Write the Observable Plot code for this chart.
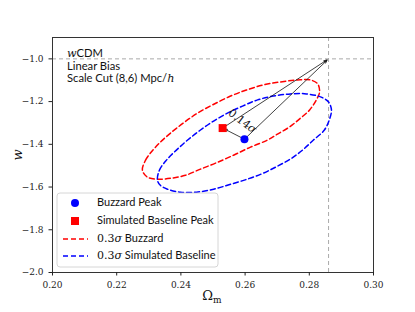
<!DOCTYPE html>
<html><head><meta charset="utf-8">
<script src="https://cdn.jsdelivr.net/npm/d3@7"></script>
<script src="https://cdn.jsdelivr.net/npm/@observablehq/plot@0.6"></script>
<style>body{margin:0;background:#fff}#c{position:relative;width:415px;height:312px}</style>
</head><body><div id="c"></div>
<script>
const xTicks = [0.20, 0.22, 0.24, 0.26, 0.28, 0.30];
const yTicks = [-1.0, -1.2, -1.4, -1.6, -1.8, -2.0];
const truthOm = 0.286, truthW = -1.0;
const buzzardPeak = {om: 0.2598, w: -1.376};
const simPeak = {om: 0.2530, w: -1.324};
const sepLabel = "0.14";
const redEllX = [0.2280,0.2290,0.2305,0.2333,0.2368,0.2408,0.2452,0.2498,0.2555,0.2604,0.2657,0.2710,0.2763,0.2804,0.2826,0.2832,0.2822,0.2801,0.2773,0.2738,0.2701,0.2670,0.2617,0.2564,0.2508,0.2461,0.2414,0.2368,0.2327,0.2296];
const redEllW = [-1.521,-1.474,-1.441,-1.394,-1.347,-1.300,-1.254,-1.216,-1.174,-1.146,-1.122,-1.108,-1.099,-1.099,-1.117,-1.155,-1.192,-1.239,-1.277,-1.319,-1.352,-1.380,-1.413,-1.451,-1.488,-1.516,-1.545,-1.559,-1.563,-1.554];
const blueEllX = [0.2327,0.2333,0.2355,0.2386,0.2421,0.2461,0.2502,0.2545,0.2592,0.2639,0.2688,0.2741,0.2791,0.2835,0.2860,0.2869,0.2863,0.2847,0.2813,0.2779,0.2741,0.2701,0.2657,0.2607,0.2555,0.2502,0.2449,0.2399,0.2358,0.2336];
const blueEllW = [-1.568,-1.521,-1.474,-1.427,-1.380,-1.333,-1.291,-1.254,-1.221,-1.192,-1.174,-1.164,-1.164,-1.178,-1.202,-1.239,-1.282,-1.333,-1.380,-1.427,-1.469,-1.502,-1.535,-1.563,-1.587,-1.610,-1.624,-1.624,-1.610,-1.592];

const redEll = redEllX.map((x,i)=>({x, w: redEllW[i]}));
const blueEll = blueEllX.map((x,i)=>({x, w: blueEllW[i]}));
const serif = "DejaVu Serif, Liberation Serif, serif";
const sans = "Lato, DejaVu Sans, sans-serif";
const minus = d => d3.format(".1f")(d).replace("-", "\u2212");

const chart = Plot.plot({
  width: 415, height: 312,
  marginLeft: 52, marginRight: 42, marginTop: 37, marginBottom: 40,
  x: {domain: [0.20, 0.30]},
  y: {domain: [-2.0, -0.9]},
  style: {fontFamily: serif, fontSize: "9px", color: "#222"},
  marks: [
    Plot.ruleY([truthW], {stroke: "#aaa", strokeDasharray: "4,3", strokeWidth: 1}),
    Plot.ruleX([truthOm], {stroke: "#aaa", strokeDasharray: "4,3", strokeWidth: 1}),
    Plot.line(redEll, {x: "x", y: "w", curve: "catmull-rom-closed", stroke: "#ff0000", strokeWidth: 1.5, strokeDasharray: "5,3"}),
    Plot.line(blueEll, {x: "x", y: "w", curve: "catmull-rom-closed", stroke: "#0000ff", strokeWidth: 1.5, strokeDasharray: "5,3"}),
    Plot.arrow([{x1: simPeak.om, y1: simPeak.w, x2: truthOm, y2: truthW},
                {x1: buzzardPeak.om, y1: buzzardPeak.w, x2: truthOm, y2: truthW},
                {x1: buzzardPeak.om, y1: buzzardPeak.w, x2: simPeak.om, y2: simPeak.w}],
      {x1: "x1", y1: "y1", x2: "x2", y2: "y2", stroke: "#111", strokeWidth: 0.8, headLength: 6, headAngle: 40, insetEnd: 2, bend: false}),
    Plot.dot([buzzardPeak], {x: "om", y: "w", r: 4, fill: "#0000ff"}),
    Plot.dot([simPeak], {x: "om", y: "w", r: 4.5, symbol: "square", fill: "#ff0000"}),
    Plot.frame({stroke: "#333", strokeWidth: 1}),
    Plot.axisX({ticks: xTicks, tickSize: 3.5, tickFormat: d3.format(".2f"), label: null, fontFamily: serif, fontSize: 9}),
    Plot.axisY({ticks: yTicks, tickSize: 3.5, tickFormat: minus, label: null, fontFamily: serif, fontSize: 9})
  ]
});
document.getElementById("c").appendChild(chart);
const svg = d3.select(chart);
const xs = chart.scale("x"), ys = chart.scale("y");

// separation label
const lx = xs.apply(0.2592), ly = ys.apply(-1.296);
const t = svg.append("text").attr("transform", `translate(${lx},${ly}) rotate(37)`)
  .attr("text-anchor", "middle").attr("dominant-baseline", "middle")
  .attr("font-family", serif).attr("font-size", 11).attr("fill", "#111");
t.append("tspan").text(sepLabel);
t.append("tspan").attr("font-style", "italic").text("σ");

// axis labels
const xl = svg.append("text").attr("x", 212).attr("y", 300).attr("text-anchor", "middle")
  .attr("font-family", serif).attr("font-size", 13).attr("fill", "#111");
xl.append("tspan").text("Ω");
xl.append("tspan").attr("font-size", 9).attr("dy", 3).text("m");
svg.append("text").attr("transform", "translate(22,155) rotate(-90)").attr("text-anchor", "middle")
  .attr("font-family", serif).attr("font-style", "italic").attr("font-size", 13).attr("fill", "#111").text("w");

// info text
const info = svg.append("g").attr("font-family", sans).attr("font-size", 11.2).attr("fill", "#111").attr("text-anchor", "start");
const l1 = info.append("text").attr("x", 67).attr("y", 57);
l1.append("tspan").attr("font-family", serif).attr("font-style", "italic").text("w");
l1.append("tspan").text("CDM");
info.append("text").attr("x", 67).attr("y", 69.5).text("Linear Bias");
const l3 = info.append("text").attr("x", 67).attr("y", 82);
l3.append("tspan").text("Scale Cut (8,6) Mpc/");
l3.append("tspan").attr("font-family", serif).attr("font-style", "italic").text("h");

// legend
const lg = svg.append("g").attr("text-anchor", "start");
lg.append("rect").attr("x", 57).attr("y", 193).attr("width", 161).attr("height", 74).attr("rx", 3)
  .attr("fill", "white").attr("fill-opacity", 0.85).attr("stroke", "#ccc").attr("stroke-width", 0.8);
const items = [
  {kind: "dot", color: "#0000ff", label: ["", "Buzzard Peak"]},
  {kind: "sq", color: "#ff0000", label: ["", "Simulated Baseline Peak"]},
  {kind: "line", color: "#ff0000", label: ["0.3", " Buzzard"]},
  {kind: "line", color: "#0000ff", label: ["0.3", " Simulated Baseline"]}
];
const rowY = [203, 221, 239, 256];
items.forEach((it, i) => {
  const y = rowY[i];
  if (it.kind === "dot") lg.append("circle").attr("cx", 75).attr("cy", y).attr("r", 4).attr("fill", it.color);
  else if (it.kind === "sq") lg.append("rect").attr("x", 71).attr("y", y-4).attr("width", 8).attr("height", 8).attr("fill", it.color);
  else lg.append("line").attr("x1", 63).attr("x2", 88).attr("y1", y).attr("y2", y).attr("stroke", it.color).attr("stroke-width", 1.5).attr("stroke-dasharray", "5,3");
  const tx = lg.append("text").attr("x", 97).attr("y", y).attr("dominant-baseline", "middle")
    .attr("font-family", sans).attr("font-size", 11).attr("fill", "#111");
  if (it.label[0]) {
    tx.append("tspan").attr("font-family", serif).text(it.label[0]);
    tx.append("tspan").attr("font-family", serif).attr("font-style", "italic").text("σ");
  }
  tx.append("tspan").text(it.label[1]);
});
</script></body></html>
